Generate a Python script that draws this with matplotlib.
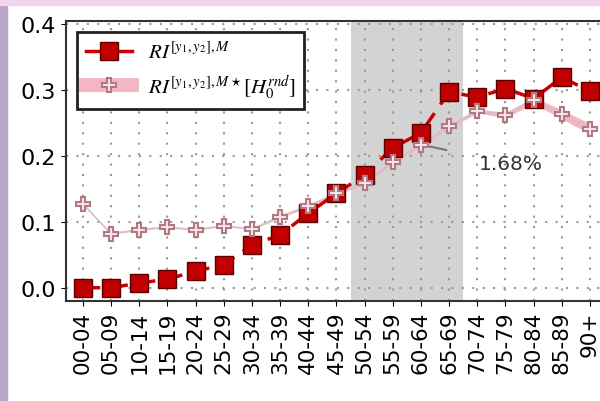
import numpy as np
import matplotlib
matplotlib.use("Agg")
import matplotlib.pyplot as plt
from matplotlib.patches import Rectangle

plt.rcParams['mathtext.fontset'] = 'stix'

ages = ["00-04", "05-09", "10-14", "15-19", "20-24", "25-29", "30-34",
        "35-39", "40-44", "45-49", "50-54", "55-59", "60-64", "65-69",
        "70-74", "75-79", "80-84", "85-89", "90+"]
ri = [0.0, 0.0, 0.007, 0.013, 0.025, 0.035, 0.065, 0.08, 0.113, 0.143,
      0.171, 0.212, 0.235, 0.297, 0.289, 0.302, 0.287, 0.319, 0.298]
ri_null = [0.127, 0.082, 0.088, 0.092, 0.088, 0.094, 0.089, 0.108, 0.124, 0.143,
           0.159, 0.191, 0.217, 0.245, 0.268, 0.262, 0.284, 0.263, 0.241]
band_half = [0.001, 0.001, 0.001, 0.001, 0.001, 0.001, 0.001, 0.002, 0.002, 0.002,
             0.002, 0.002, 0.003, 0.003, 0.003, 0.004, 0.005, 0.007, 0.008]
shade = (9.5, 13.5)
note = "1.68%"

x = np.arange(len(ages))
lo = np.array(ri_null) - np.array(band_half)
hi = np.array(ri_null) + np.array(band_half)

fig = plt.figure(figsize=(6, 4.02), dpi=100)
# bits of the scanned page around the plot
fig.patches.append(Rectangle((0, 0), 0.012, 1, transform=fig.transFigure,
                             color='#b9a6c6', zorder=-10))
fig.patches.append(Rectangle((0, 0.985), 1, 0.015, transform=fig.transFigure,
                             color='#f1d4ee', zorder=-10))

ax = fig.add_axes([0.11, 0.249, 0.9015, 0.697])

ax.axvspan(shade[0], shade[1], color='#d3d3d3', zorder=0, lw=0)

ax.fill_between(x, lo, hi, color='#f4b6c2', lw=0, zorder=2)
ax.plot(x, ri_null, color='#d8c0c8', lw=1.2, zorder=3)
ax.plot(x, ri, color='#cc0000', ls='--', lw=2.5, dashes=(5, 3), zorder=4)
ax.plot(x, ri, ls='none', marker='s', ms=13, mfc='#c00000', mec='#5a0000',
        mew=1, zorder=5)
ax.plot(x, ri_null, ls='none', marker='P', ms=10, mfc='#fbe6ea', mec='#b07a84',
        mew=1.5, zorder=6)

# legend proxies
h1, = ax.plot([], [], color='#cc0000', lw=2.5, marker='s', ms=13,
              mfc='#c00000', mec='#5a0000')
h2, = ax.plot([], [], color='#f4b6c2', lw=10, marker='P', ms=10,
              mfc='#fbe6ea', mec='#b07a84', mew=1.5)
leg = ax.legend([h1, h2],
                [r'$RI^{[y_1,y_2],M}$', r'$RI^{[y_1,y_2],M\star}[H_0^{rnd}]$'],
                loc='upper left', fontsize=15, fancybox=False, framealpha=1,
                edgecolor='#222222', handlelength=2.2, borderaxespad=0.55)
leg.get_frame().set_linewidth(2)

ax.annotate(note, xy=(12, ri_null[12]), xytext=(15.2, 0.188),
            fontsize=14.5, color='#333333', ha='center', va='center',
            arrowprops=dict(arrowstyle='-', color='#777777', lw=1.5,
                            shrinkA=22, shrinkB=4))

ax.set_xlim(-0.6, 18.6)
ax.set_ylim(-0.02, 0.405)
ax.set_yticks([0.0, 0.1, 0.2, 0.3, 0.4])
ax.set_xticks(x)
ax.set_xticklabels(ages, rotation=90, fontsize=15.5)
ax.tick_params(axis='y', labelsize=16)
ax.grid(True, ls=(0, (1, 4)), color='#999999', lw=1.5)
ax.set_axisbelow(True)
for s in ax.spines.values():
    s.set_linewidth(1.5)
    s.set_color('#333333')

fig.savefig("out.png", dpi=100)
